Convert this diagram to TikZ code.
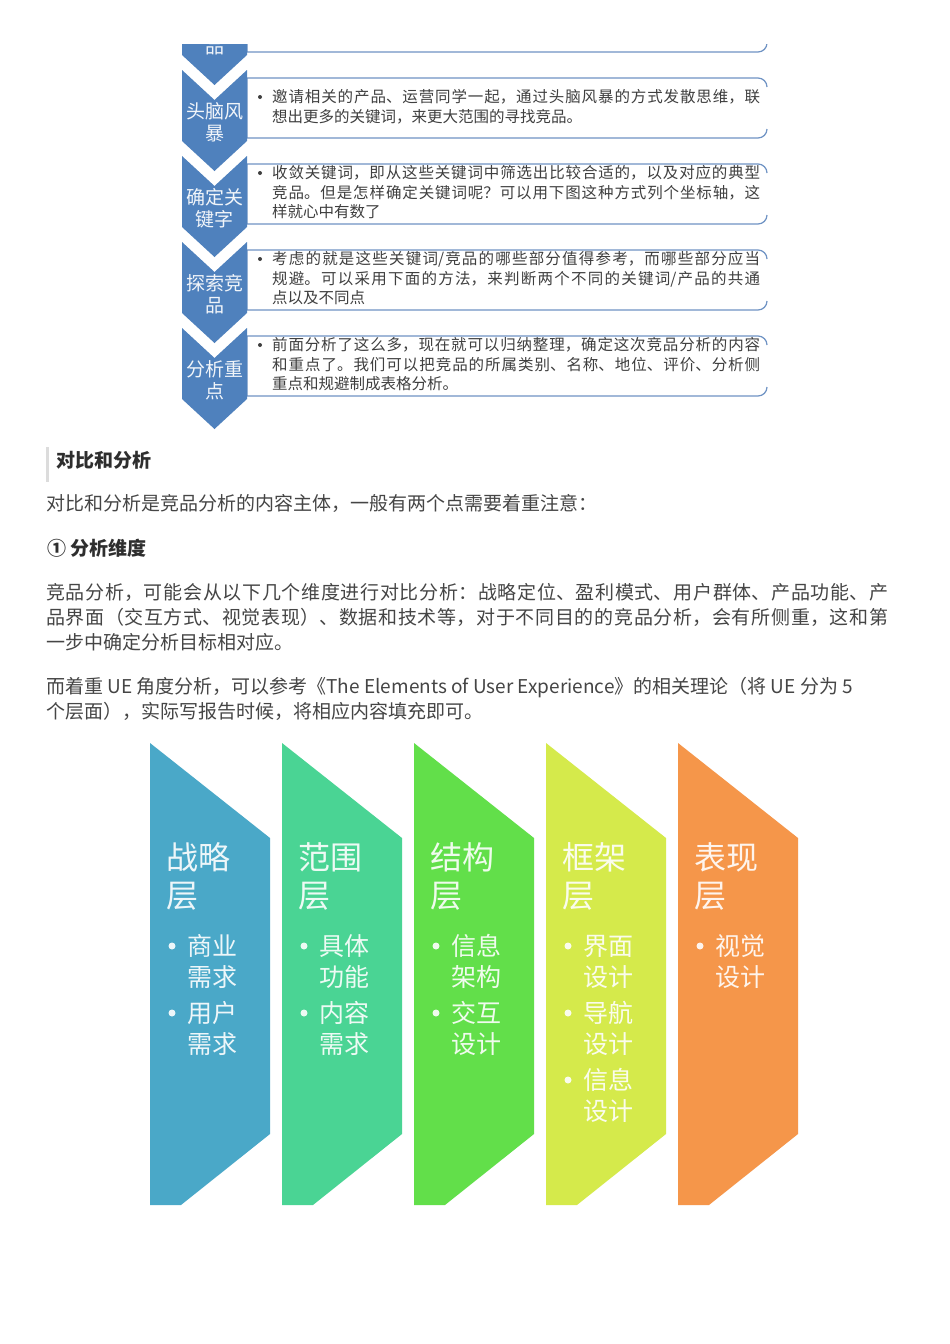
\documentclass[tikz,border=0pt]{standalone}
\usepackage{fontspec}
\setmainfont{Noto Sans CJK SC}
\XeTeXlinebreaklocale "zh"
\XeTeXlinebreakskip=0pt plus 4pt
\setlength{\parindent}{0pt}
\definecolor{chevblue}{HTML}{4F81BD}
\definecolor{memoline}{HTML}{6F93C4}
\definecolor{memoink}{HTML}{3F3F3F}
\definecolor{bodyink}{HTML}{454545}
\definecolor{headink}{HTML}{2E2E2E}
\definecolor{bargray}{HTML}{DCDCDC}
\definecolor{layerA}{HTML}{4AA8C8}
\definecolor{layerB}{HTML}{4AD494}
\definecolor{layerC}{HTML}{62DF4A}
\definecolor{layerD}{HTML}{D5EA4B}
\definecolor{layerE}{HTML}{F5964A}
\begin{document}
\begin{tikzpicture}[x=1pt,y=-1pt,
   chev/.style={fill=chevblue},
   memo/.style={draw=memoline,line width=1.2pt},
   chevtext/.style={text=white,text opacity=.92,align=center,inner sep=0pt,
      font=\fontsize{19}{22}\selectfont},
   memotext/.style={anchor=west,text=memoink,text width=488pt,align=justify,
      inner sep=0pt,font=\fontsize{15.5}{19.5}\selectfont},
   memodot/.style={circle,fill=memoink,inner sep=0pt,minimum size=4pt},
   bodytext/.style={anchor=west,text=bodyink,inner sep=0pt,
      font=\fontsize{19}{25}\selectfont},
   headtext/.style={anchor=west,text=headink,inner sep=0pt,
      font=\fontsize{19}{25}\selectfont\bfseries},
   layertitle/.style={anchor=west,text=white,text opacity=.9,align=left,
      inner sep=0pt,font=\fontsize{32}{38}\selectfont},
   layeritem/.style={anchor=west,text=white,text opacity=.9,align=left,
      inner sep=0pt,font=\fontsize{25}{31}\selectfont},
   layerdot/.style={circle,fill=white,fill opacity=.9,inner sep=0pt,minimum size=7pt}]
\fill[white] (0,0) rectangle (950,1344);
\useasboundingbox (0,0) rectangle (950,1344);

\begin{scope}
\clip (0,44) rectangle (950,440);
\foreach \t in {85,171,257,343,429}
   \draw[memo] (767,\t-84) arc[start angle=0,end angle=-90,radius=9]
      -- (247,\t-93) -- (247,\t-33) -- (758,\t-33)
      arc[start angle=90,end angle=0,radius=9];
\foreach \t in {85,171,257,343,429}
   \fill[chev] (182,\t-101) -- (214.5,\t-71) -- (247,\t-101) -- (247,\t-30)
      -- (214.5,\t) -- (182,\t-30) -- cycle;
\node[chevtext] (c0) at (214.5,47) {品};
\node[chevtext] (c1) at (214.5,122) {头脑风\\暴};
\node[chevtext] (c2) at (214.5,208) {确定关\\键字};
\node[chevtext] (c3) at (214.5,294) {探索竞\\品};
\node[chevtext] (c4) at (214.5,380) {分析重\\点};
\end{scope}

\node[memodot] (d1) at (260,97) {};
\node[memotext] (m1) at (272,106.5) {邀请相关的产品、运营同学一起，通过头脑风暴的方式发散思维，联\linebreak
   想出更多的关键词，来更大范围的寻找竞品。};
\node[memodot] (d2) at (260,173) {};
\node[memotext] (m2) at (272,192.5) {收敛关键词，即从这些关键词中筛选出比较合适的，以及对应的典型\linebreak
   竞品。但是怎样确定关键词呢？可以用下图这种方式列个坐标轴，这\linebreak
   样就心中有数了};
\node[memodot] (d3) at (260,259) {};
\node[memotext] (m3) at (272,278.5) {考虑的就是这些关键词/竞品的哪些部分值得参考，而哪些部分应当\linebreak
   规避。可以采用下面的方法，来判断两个不同的关键词/产品的共通\linebreak
   点以及不同点};
\node[memodot] (d4) at (260,345) {};
\node[memotext] (m4) at (272,364.5) {前面分析了这么多，现在就可以归纳整理，确定这次竞品分析的内容\linebreak
   和重点了。我们可以把竞品的所属类别、名称、地位、评价、分析侧\linebreak
   重点和规避制成表格分析。};

\fill[bargray] (46,447) rectangle (49,482);
\node[headtext] (h1) at (56,460) {对比和分析};
\node[bodytext] (p1) at (46,503) {对比和分析是竞品分析的内容主体，一般有两个点需要着重注意：};
\node[headtext] (h2) at (47,548) {① 分析维度};
\node[bodytext,text width=842pt,align=justify] (p2) at (46,617)
   {竞品分析，可能会从以下几个维度进行对比分析：战略定位、盈利模式、用户群体、产品功能、产\linebreak
   品界面（交互方式、视觉表现）、数据和技术等，对于不同目的的竞品分析，会有所侧重，这和第\linebreak
   一步中确定分析目标相对应。};
\node[bodytext,align=left] (p3) at (46,698.5)
   {而着重 UE 角度分析，可以参考《The Elements of User Experience》的相关理论（将 UE 分为 5\\
   个层面），实际写报告时候，将相应内容填充即可。};

\foreach \x/\col in {150/layerA,282/layerB,414/layerC,546/layerD,678/layerE}
   \fill[\col] (\x,743) -- (\x+120,838) -- (\x+120,1134) -- (\x+31,1205)
      -- (\x,1205) -- cycle;

\node[layertitle] (t1) at (166,876) {战略\\层};
\node[layerdot] (s1a) at (172,946) {};
\node[layeritem] (i1a) at (187,961.5) {商业\\需求};
\node[layerdot] (s1b) at (172,1013) {};
\node[layeritem] (i1b) at (187,1028.5) {用户\\需求};

\node[layertitle] (t2) at (298,876) {范围\\层};
\node[layerdot] (s2a) at (304,946) {};
\node[layeritem] (i2a) at (319,961.5) {具体\\功能};
\node[layerdot] (s2b) at (304,1013) {};
\node[layeritem] (i2b) at (319,1028.5) {内容\\需求};

\node[layertitle] (t3) at (430,876) {结构\\层};
\node[layerdot] (s3a) at (436,946) {};
\node[layeritem] (i3a) at (451,961.5) {信息\\架构};
\node[layerdot] (s3b) at (436,1013) {};
\node[layeritem] (i3b) at (451,1028.5) {交互\\设计};

\node[layertitle] (t4) at (562,876) {框架\\层};
\node[layerdot] (s4a) at (568,946) {};
\node[layeritem] (i4a) at (583,961.5) {界面\\设计};
\node[layerdot] (s4b) at (568,1013) {};
\node[layeritem] (i4b) at (583,1028.5) {导航\\设计};
\node[layerdot] (s4c) at (568,1080) {};
\node[layeritem] (i4c) at (583,1095.5) {信息\\设计};

\node[layertitle] (t5) at (694,876) {表现\\层};
\node[layerdot] (s5a) at (700,946) {};
\node[layeritem] (i5a) at (715,961.5) {视觉\\设计};
\end{tikzpicture}
\end{document}
